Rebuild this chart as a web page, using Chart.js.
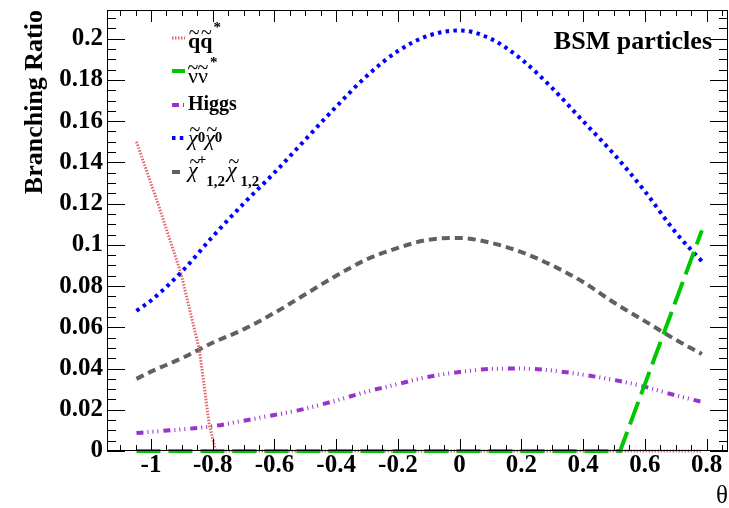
<!DOCTYPE html>
<html><head><meta charset="utf-8">
<script src="https://cdn.jsdelivr.net/npm/chart.js@4.4.1/dist/chart.umd.min.js"></script>
<style>
html,body{margin:0;padding:0;background:#fff}
#wrap{position:relative;width:729px;height:508px}
#c{display:block;position:absolute;left:0;top:0}
#ov{display:block;position:absolute;left:0;top:0;pointer-events:none}
</style>
</head><body>
<div id="wrap">
<canvas id="c" width="729" height="508"></canvas>
<canvas id="ov" width="729" height="508"></canvas>
</div>
<script>
// ---- data ----
const theta = [-1.047,-1.0,-0.9,-0.8,-0.7,-0.6,-0.5,-0.4,-0.3,-0.2,-0.1,0,0.1,0.2,0.3,0.4,0.5,0.6,0.7,0.785];
const chi0 = [0.068,0.073,0.087,0.104,0.120,0.135,0.151,0.167,0.182,0.194,0.2015,0.204,0.200,0.190,0.176,0.160,0.144,0.126,0.106,0.092];
const chiPM = [0.035,0.0385,0.045,0.0525,0.059,0.067,0.076,0.085,0.093,0.0985,0.1025,0.1033,0.101,0.0965,0.090,0.082,0.072,0.063,0.054,0.047];
const higgs = [0.0087,0.0093,0.0105,0.012,0.0147,0.0175,0.0205,0.0245,0.0288,0.0325,0.036,0.0383,0.0398,0.040,0.039,0.037,0.0345,0.0312,0.027,0.0238];
const qqX = [-1.047,-0.975,-0.903,-0.843,-0.811,-0.79,0.785];
const qqY = [0.150,0.119,0.0862,0.049,0.0126,0,0];
const nuX = [-1.047,0.52,0.785];
const nuY = [0,0,0.107];
const xTicks = [-1,-0.8,-0.6,-0.4,-0.2,0,0.2,0.4,0.6,0.8];
const xTickLabels = ['-1','-0.8','-0.6','-0.4','-0.2','0','0.2','0.4','0.6','0.8'];
const yTicks = [0,0.02,0.04,0.06,0.08,0.1,0.12,0.14,0.16,0.18,0.2];
const yTickLabels = ['0','0.02','0.04','0.06','0.08','0.1','0.12','0.14','0.16','0.18','0.2'];

const pairs = (xs, ys) => xs.map((x, i) => ({x, y: ys[i]}));

const styles = {
  qq:   {color:'#e06868', width:3, dash:[1.5,1.5]},
  nu:   {color:'#00c800', width:4, dash:[24,8]},
  higgs:{color:'#9933cc', width:4, dash:[7,4,1,4,1,4,1,5]},
  chi0: {color:'#0000ff', width:4, dash:[3.5,4.3]},
  chipm:{color:'#606060', width:4, dash:[8,5]}
};

const SERIF = '"Liberation Serif", "Times New Roman", serif';

function ds(label, data, st, order, tension){
  const o = {label, data, borderColor:st.color, borderWidth:st.width, borderDash:st.dash,
    pointRadius:0, fill:false, tension:tension, order:order, clip:false};
  if (tension > 0) o.cubicInterpolationMode = 'monotone';
  return o;
}

function drawRich(ctx, x, y, parts){
  let cx = x;
  for (const p of parts){
    ctx.font = p.font;
    if (p.dx) cx += p.dx;
    const yy = y + (p.dy||0);
    ctx.fillText(p.t, cx, yy);
    const w = ctx.measureText(p.t).width;
    if (p.tilde){
      ctx.save();
      ctx.font = '20px ' + SERIF;
      ctx.textAlign = 'center';
      ctx.fillText('~', cx + w/2 + (p.tx||0), yy - (p.ty||9));
      ctx.restore();
    }
    cx += w;
  }
}

// frame + inward ticks, drawn on an overlay canvas from the chart's own scales
function drawFrame(chart, ctx){
  const a = chart.chartArea;
  const xs = chart.scales.x, ys = chart.scales.y;
  const L = Math.round(a.left), R = Math.round(a.right), T = Math.round(a.top), B = Math.round(a.bottom);
  ctx.clearRect(0, 0, ctx.canvas.width, ctx.canvas.height);
  ctx.fillStyle = '#000000';
  ctx.fillRect(L, T, R - L, 1);
  ctx.fillRect(L, B - 1, R - L, 1);
  ctx.fillRect(L, T, 1, B - T);
  ctx.fillRect(R - 1, T, 1, B - T);
  for (let i = -22; i <= 17; i++){
    const px = Math.round(xs.getPixelForValue(i*0.05));
    const len = (Math.abs(i) % 4 === 0) ? 12 : 6;
    ctx.fillRect(px, B - len, 1, len);
    ctx.fillRect(px, T, 1, len);
  }
  for (let i = 0; i <= 42; i++){
    const py = Math.round(ys.getPixelForValue(i*0.005));
    const len = (i % 4 === 0) ? 18 : 9;
    ctx.fillRect(L, py, len, 1);
    ctx.fillRect(R - len, py, len, 1);
  }
}

const decoPlugin = {
  id:'decoPlugin',
  afterDraw(chart){
    const ctx = chart.ctx;
    ctx.save();
    ctx.fillStyle = '#000';
    ctx.font = 'bold 26px ' + SERIF;
    ctx.save();
    ctx.translate(42, 10);
    ctx.rotate(-Math.PI/2);
    ctx.textAlign = 'right'; ctx.textBaseline = 'alphabetic';
    ctx.fillText('Branching Ratio', 0, 0);
    ctx.restore();
    ctx.font = '25px ' + SERIF;
    ctx.textAlign = 'right'; ctx.textBaseline = 'alphabetic';
    ctx.fillText('θ', 728, 503);
    ctx.font = 'bold 26px ' + SERIF;
    ctx.fillText('BSM particles', 712, 49);

    ctx.textAlign = 'left';
    const B22 = 'bold 22px ' + SERIF, N22 = '22px ' + SERIF, I22 = 'italic 22px ' + SERIF, S15 = 'bold 15px ' + SERIF;
    const rows = [
      {st:styles.qq, sy:38, by:48, parts:[{t:'q', font:B22, tilde:true, ty:9},{t:'q', font:B22, tilde:true, ty:9},{t:'*', font:S15, dy:-16, dx:1}]},
      {st:styles.nu, sy:71, by:83, parts:[{t:'\u03BD', font:N22, tilde:true, ty:9},{t:'\u03BD', font:N22, tilde:true, ty:9},{t:'*', font:S15, dy:-16, dx:2}]},
      {st:styles.higgs, sy:105, by:110, parts:[{t:'Higgs', font:'bold 20px ' + SERIF}]},
      {st:styles.chi0, sy:138, by:145, parts:[{t:'\u03C7', font:I22, tilde:true, ty:9, tx:2},{t:'0', font:S15, dy:-3},{t:'\u03C7', font:I22, tilde:true, ty:9, tx:2},{t:'0', font:S15, dy:-3}]},
      {st:styles.chipm, sy:172, by:177, parts:[{t:'\u03C7', font:I22, tilde:true, ty:9, tx:2},{t:'+', font:S15, dy:-13},{t:'1,2', font:S15, dy:9},{t:'\u03C7', font:I22, tilde:true, ty:9, tx:2, dx:2},{t:' 1,2', font:S15, dy:9}]}
    ];
    for (const r of rows){
      ctx.strokeStyle = r.st.color; ctx.lineWidth = r.st.width; ctx.setLineDash(r.st.dash);
      ctx.beginPath(); ctx.moveTo(172, r.sy); ctx.lineTo(185, r.sy); ctx.stroke();
      ctx.setLineDash([]);
      drawRich(ctx, 188, r.by, r.parts);
    }
    ctx.restore();
  }
};

const tickFont = {family: SERIF, size: 25, weight: 'bold'};

const chart = new Chart(document.getElementById('c'), {
  type: 'line',
  data: {
    datasets: [
      ds('qq', pairs(qqX, qqY), styles.qq, 2, 0),
      ds('nunu', pairs(nuX, nuY), styles.nu, 0, 0),
      ds('Higgs', pairs(theta, higgs), styles.higgs, 3, 0.4),
      ds('chi0chi0', pairs(theta, chi0), styles.chi0, 1, 0.4),
      ds('chipm', pairs(theta, chiPM), styles.chipm, 4, 0.4)
    ]
  },
  options: {
    responsive: false, animation: false, devicePixelRatio: 1,
    layout: {padding: {top: 10, right: 1, left: 0, bottom: 0}},
    plugins: {legend: {display: false}, tooltip: {enabled: false}},
    scales: {
      x: {
        type: 'linear', min: -1.1425, max: 0.8696,
        grid: {display: false, drawTicks: false}, border: {display: false},
        afterBuildTicks: s => { s.ticks = xTicks.map(v => ({value: v})); },
        afterFit: s => { s.height = 57; s.paddingLeft = 0; s.paddingRight = 0; },
        ticks: {font: tickFont, color: '#000', padding: 0, maxRotation: 0, autoSkip: false,
          callback: (v) => { const i = xTicks.findIndex(t => Math.abs(t - v) < 1e-9); return i >= 0 ? xTickLabels[i] : ''; }}
      },
      y: {
        type: 'linear', min: 0, max: 0.2139,
        grid: {display: false, drawTicks: false}, border: {display: false},
        afterBuildTicks: s => { s.ticks = yTicks.map(v => ({value: v})); },
        afterFit: s => { s.width = 107; s.paddingTop = 0; s.paddingBottom = 0; },
        ticks: {font: tickFont, color: '#000', padding: 4, autoSkip: false,
          callback: (v) => { const i = yTicks.findIndex(t => Math.abs(t - v) < 1e-9); return i >= 0 ? yTickLabels[i] : ''; }}
      }
    }
  },
  plugins: [decoPlugin]
});

drawFrame(chart, document.getElementById('ov').getContext('2d'));
</script></body></html>
